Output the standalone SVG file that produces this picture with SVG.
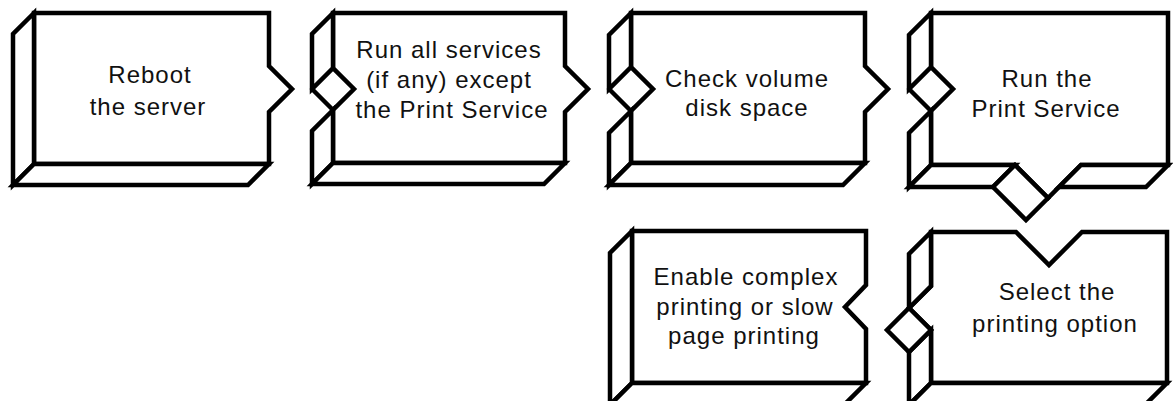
<svg xmlns="http://www.w3.org/2000/svg" width="1173" height="401" viewBox="0 0 1173 401">
  <style>
    .face { fill: #fff; stroke: #000; stroke-width: 4.5; stroke-linejoin: miter; stroke-linecap: round; }
    .edge { fill: none; stroke: #000; stroke-width: 4.5; stroke-linejoin: miter; stroke-linecap: round; }
    .label { font-family: "Liberation Sans", Arial, sans-serif; font-size: 24px; letter-spacing: 1px; fill: #111; text-anchor: middle; }
  </style>
  <rect width="1173" height="401" fill="#fff"/>

  <!-- Step 1 -->
  <g id="reboot">
    <path class="face" d="M34,13 H269 V66 L292,89 L269,112 V164 H34 Z"/>
    <path class="face" d="M34,13 L13,34 V185 L34,164 Z"/>
    <path class="face" d="M34,164 L13,185 H248 L269,164 Z"/>
    <text class="label" x="150" y="83">Reboot</text>
    <text class="label" x="148" y="115">the server</text>
  </g>

  <!-- Step 2 -->
  <g id="run-services">
    <path class="face" d="M333,13 H565 V66 L588,89 L565,112 V163 H333 V110 L354,89 L333,68 Z"/>
    <path class="face" d="M333,13 L312,34 V89 L333,68 Z"/>
    <path class="edge" d="M312,89 L333,110"/>
    <path class="face" d="M333,110 L312,131 V184 L333,163 Z"/>
    <path class="face" d="M333,163 L312,184 H544 L565,163 Z"/>
    <text class="label" x="449" y="58">Run all services</text>
    <text class="label" x="449" y="88">(if any) except</text>
    <text class="label" x="452" y="118">the Print Service</text>
  </g>

  <!-- Step 3 -->
  <g id="check-disk">
    <path class="face" d="M631,13 H865 V66 L888,89 L865,112 V163 H631 V111 L653,89 L631,67 Z"/>
    <path class="face" d="M631,13 L609,35 V89 L631,67 Z"/>
    <path class="edge" d="M609,89 L631,111"/>
    <path class="face" d="M631,111 L609,133 V185 L631,163 Z"/>
    <path class="face" d="M631,163 L609,185 H843 L865,163 Z"/>
    <text class="label" x="747" y="87">Check volume</text>
    <text class="label" x="747" y="116">disk space</text>
  </g>

  <!-- Step 4 -->
  <g id="run-print">
    <path class="face" d="M931,13 H1168 V165 H1081 L1048,198 L1015,165 H931 V111 L953,89 L931,67 Z"/>
    <path class="face" d="M931,13 L909,35 V89 L931,67 Z"/>
    <path class="edge" d="M909,89 L931,111"/>
    <path class="face" d="M931,111 L909,133 V187 L931,165 Z"/>
    <path class="face" d="M931,165 L909,187 H993 L1015,165 Z"/>
    <path class="face" d="M1081,165 L1059,187 H1146 L1168,165 Z"/>
    <text class="label" x="1047" y="87">Run the</text>
    <text class="label" x="1046" y="117">Print Service</text>
  </g>

  <!-- Step 5 -->
  <g id="select-option">
    <path class="face" d="M931,232 H1016 L1049,265 L1082,232 H1167 V383 H931 V330 L909,308 L931,286 Z"/>
    <path class="face" d="M931,232 L909,254 V308 L931,286 Z"/>
    <path class="face" d="M931,330 L909,352 V405 L931,383 Z"/>
    <path class="face" d="M931,383 L909,405 H1145 L1167,383 Z"/>
    <text class="label" x="1057" y="300">Select the</text>
    <text class="label" x="1055" y="332">printing option</text>
  </g>

  <!-- Step 6 -->
  <g id="enable-complex">
    <path class="face" d="M632,231 H866 V285 L845,307 L866,329 V383 H632 Z"/>
    <path class="face" d="M632,231 L610,253 V405 L632,383 Z"/>
    <path class="face" d="M632,383 L610,405 H844 L866,383 Z"/>
    <text class="label" x="746" y="285">Enable complex</text>
    <text class="label" x="745" y="315">printing or slow</text>
    <text class="label" x="744" y="344">page printing</text>
  </g>

  <!-- Extruded arrow tips -->
  <g id="connectors">
    <path class="face" d="M1015,165 L1048,198 L1026,220 L993,187 Z"/>
    <path class="face" d="M909,308 L931,330 L909,352 L887,330 Z"/>
  </g>
</svg>
